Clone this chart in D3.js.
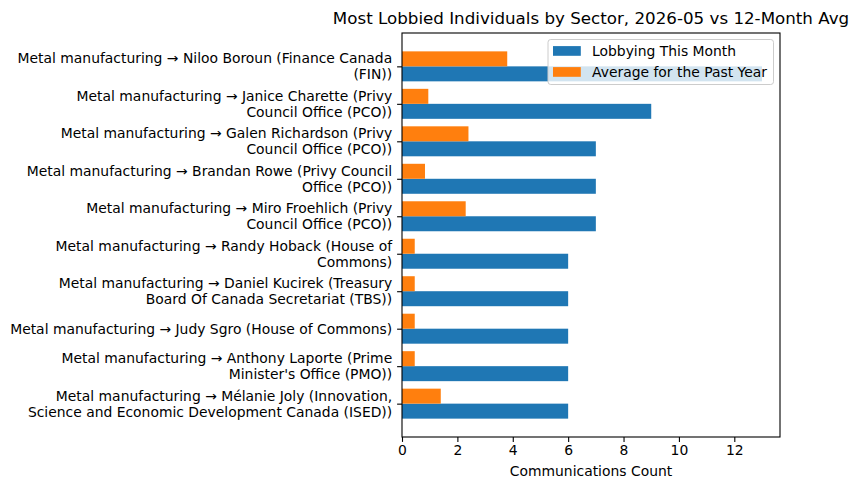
<!DOCTYPE html>
<html>
<head>
<meta charset="utf-8">
<script src="https://cdn.jsdelivr.net/npm/d3@7"></script>
<style>
    body { margin: 0; background: #fff; }
    svg text { font-family: "DejaVu Sans", sans-serif; fill: #000; }
</style>
</head>
<body>
<div id="main"></div>
<script>
// Chart data
let categories = [
    ["Metal manufacturing \u2192 Niloo Boroun (Finance Canada", "(FIN))"],
    ["Metal manufacturing \u2192 Janice Charette (Privy", "Council Office (PCO))"],
    ["Metal manufacturing \u2192 Galen Richardson (Privy", "Council Office (PCO))"],
    ["Metal manufacturing \u2192 Brandan Rowe (Privy Council", "Office (PCO))"],
    ["Metal manufacturing \u2192 Miro Froehlich (Privy", "Council Office (PCO))"],
    ["Metal manufacturing \u2192 Randy Hoback (House of", "Commons)"],
    ["Metal manufacturing \u2192 Daniel Kucirek (Treasury", "Board Of Canada Secretariat (TBS))"],
    ["Metal manufacturing \u2192 Judy Sgro (House of Commons)"],
    ["Metal manufacturing \u2192 Anthony Laporte (Prime", "Minister's Office (PMO))"],
    ["Metal manufacturing \u2192 M\u00e9lanie Joly (Innovation,", "Science and Economic Development Canada (ISED))"]
];
let thisMonth = [13, 9, 7, 7, 7, 6, 6, 6, 6, 6];
let pastYearAvg = [3.8, 0.95, 2.4, 0.83, 2.3, 0.46, 0.46, 0.46, 0.46, 1.4];
let xTicks = [0, 2, 4, 6, 8, 10, 12];
let seriesNames = ["Lobbying This Month", "Average for the Past Year"];
let seriesColors = ["#1f77b4", "#ff7f0e"];
let chartTitle = "Most Lobbied Individuals by Sector, 2026-05 vs 12-Month Avg";
let xLabel = "Communications Count";

function generateChart() {
    let margin = {top: 33, left: 402},
        width = 378,
        height = 404,
        barH = 0.4,
        fontSize = 13.9;

    let svg = d3.select("#main")
        .append("svg")
        .attr("width", 857)
        .attr("height", 490);

    let g = svg.append("g")
        .attr("transform", "translate(" + margin.left + "," + margin.top + ")");

    // matplotlib style 5% margins
    let xMax = d3.max(thisMonth) * 1.05;
    let xScale = d3.scaleLinear().domain([0, xMax]).range([0, width]);
    let yLo = -barH, yHi = categories.length - 1 + barH;
    let pad = (yHi - yLo) * 0.05;
    let yScale = d3.scaleLinear().domain([yLo - pad, yHi + pad]).range([0, height]);
    let bandPx = yScale(barH) - yScale(0);

    // bars: orange above tick, blue below
    g.selectAll(".bar-month")
        .data(thisMonth)
        .enter().append("rect")
        .attr("class", "bar-month")
        .attr("x", xScale(0))
        .attr("y", function(d, i) { return yScale(i); })
        .attr("width", function(d) { return xScale(d) - xScale(0); })
        .attr("height", bandPx)
        .attr("fill", seriesColors[0]);

    g.selectAll(".bar-avg")
        .data(pastYearAvg)
        .enter().append("rect")
        .attr("class", "bar-avg")
        .attr("x", xScale(0))
        .attr("y", function(d, i) { return yScale(i - barH); })
        .attr("width", function(d) { return xScale(d) - xScale(0); })
        .attr("height", bandPx)
        .attr("fill", seriesColors[1]);

    // x axis
    let xAxis = g.append("g")
        .attr("transform", "translate(0," + height + ")")
        .call(d3.axisBottom(xScale).tickValues(xTicks).tickFormat(d3.format("d"))
            .tickSize(4.9).tickPadding(3.5).tickSizeOuter(0));
    xAxis.select(".domain").remove();
    xAxis.selectAll("line").attr("stroke", "#000").attr("stroke-width", 1.1);
    xAxis.selectAll("text")
        .style("font-size", fontSize + "px")
        .style("font-family", "DejaVu Sans");

    // y axis with multi-line labels
    let yAxis = g.append("g")
        .call(d3.axisLeft(yScale).tickValues(d3.range(categories.length)).tickFormat("")
            .tickSize(4.9).tickSizeOuter(0));
    yAxis.select(".domain").remove();
    yAxis.selectAll("line").attr("stroke", "#000").attr("stroke-width", 1.1);

    let lineGap = 16.2;
    categories.forEach(function(lines, i) {
        let t = g.append("text")
            .attr("text-anchor", "end")
            .style("font-size", fontSize + "px");
        lines.forEach(function(line, k) {
            t.append("tspan")
                .attr("x", -9.8)
                .attr("y", yScale(i) + (k - (lines.length - 1) / 2) * lineGap + 5)
                .text(line);
        });
    });

    // spines
    g.append("rect")
        .attr("width", width)
        .attr("height", height)
        .attr("fill", "none")
        .attr("stroke", "#000")
        .attr("stroke-width", 1.1);

    // title and axis label
    svg.append("text")
        .attr("x", margin.left + width / 2)
        .attr("y", 23.5)
        .attr("text-anchor", "middle")
        .style("font-size", "16.7px")
        .text(chartTitle);

    svg.append("text")
        .attr("x", margin.left + width / 2)
        .attr("y", 476)
        .attr("text-anchor", "middle")
        .style("font-size", fontSize + "px")
        .text(xLabel);

    generateLegend(svg, fontSize);
}

function generateLegend(svg, fontSize) {
    let legend = svg.append("g").attr("transform", "translate(548,39.5)");
    legend.append("rect")
        .attr("width", 225.5)
        .attr("height", 45)
        .attr("rx", 2.8)
        .attr("fill", "#fff")
        .attr("fill-opacity", 0.8)
        .attr("stroke", "#cccccc")
        .attr("stroke-width", 1);

    seriesNames.forEach(function(name, i) {
        let cy = 11.5 + i * 21;
        legend.append("rect")
            .attr("x", 5)
            .attr("y", cy - 4.9)
            .attr("width", 27.8)
            .attr("height", 9.7)
            .attr("fill", seriesColors[i]);
        legend.append("text")
            .attr("x", 44)
            .attr("y", cy + 5)
            .style("font-size", fontSize + "px")
            .text(name);
    });
}

generateChart();
</script>
</body>
</html>
